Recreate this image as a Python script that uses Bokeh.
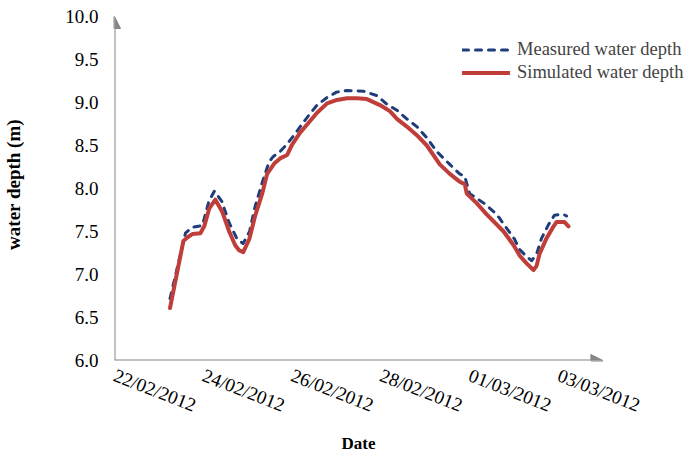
import pandas as pd
from bokeh.plotting import figure
from bokeh.models import (Range1d, FixedTicker, DatetimeTickFormatter, NumeralTickFormatter,
                          Arrow, NormalHead, Legend, LegendItem, Title)
from bokeh.embed import file_html
from bokeh.resources import INLINE

# ---------------- data ----------------
meas_time = ["2012-02-23 06:00", "2012-02-23 14:20", "2012-02-23 18:00", "2012-02-23 23:30",
             "2012-02-24 03:00", "2012-02-24 06:00", "2012-02-24 10:00", "2012-02-24 14:00",
             "2012-02-24 18:20", "2012-02-24 21:30", "2012-02-25 01:00", "2012-02-25 04:00",
             "2012-02-25 08:00", "2012-02-25 11:35", "2012-02-25 13:45", "2012-02-25 17:30",
             "2012-02-25 21:00", "2012-02-26 01:05", "2012-02-26 05:25", "2012-02-26 09:40",
             "2012-02-26 13:30", "2012-02-26 19:00", "2012-02-27 00:00", "2012-02-27 05:40",
             "2012-02-27 14:50", "2012-02-27 21:50", "2012-02-28 03:15", "2012-02-28 08:40",
             "2012-02-28 14:00", "2012-02-28 19:25", "2012-02-29 00:50", "2012-02-29 06:10",
             "2012-02-29 13:15", "2012-02-29 18:35", "2012-02-29 21:20", "2012-03-01 00:00",
             "2012-03-01 07:35", "2012-03-01 14:35", "2012-03-01 19:55", "2012-03-02 00:15",
             "2012-03-02 03:00", "2012-03-02 06:45", "2012-03-02 09:25", "2012-03-02 12:10",
             "2012-03-02 14:50", "2012-03-02 18:35", "2012-03-02 21:50", "2012-03-03 02:40",
             "2012-03-03 04:20"]
meas_depth = [6.72, 7.48, 7.55, 7.57,
              7.85, 7.97, 7.85, 7.60,
              7.41, 7.36, 7.50, 7.79,
              8.08, 8.31, 8.37, 8.43,
              8.51, 8.62, 8.75, 8.87,
              8.97, 9.06, 9.12, 9.14,
              9.13, 9.08, 8.98, 8.91,
              8.81, 8.72, 8.59, 8.43,
              8.28, 8.17, 8.14, 7.94,
              7.83, 7.70, 7.54, 7.41,
              7.29, 7.21, 7.16, 7.24,
              7.42, 7.58, 7.69, 7.70,
              7.68]

sim_time = ["2012-02-23 06:00", "2012-02-23 13:15", "2012-02-23 15:20", "2012-02-23 18:05",
            "2012-02-23 22:25", "2012-02-24 00:30", "2012-02-24 03:15", "2012-02-24 06:30",
            "2012-02-24 10:15", "2012-02-24 14:00", "2012-02-24 17:15", "2012-02-24 19:25",
            "2012-02-24 21:35", "2012-02-25 00:50", "2012-02-25 04:00", "2012-02-25 07:50",
            "2012-02-25 10:30", "2012-02-25 14:20", "2012-02-25 17:30", "2012-02-25 21:20",
            "2012-02-26 00:00", "2012-02-26 04:20", "2012-02-26 09:10", "2012-02-26 13:30",
            "2012-02-26 18:55", "2012-02-27 00:15", "2012-02-27 05:40", "2012-02-27 11:05",
            "2012-02-27 16:25", "2012-02-27 23:30", "2012-02-28 04:50", "2012-02-28 08:40",
            "2012-02-28 14:00", "2012-02-28 19:25", "2012-02-29 00:50", "2012-02-29 07:50",
            "2012-02-29 13:15", "2012-02-29 18:35", "2012-02-29 21:20", "2012-02-29 22:25",
            "2012-03-01 03:45", "2012-03-01 09:10", "2012-03-01 18:20", "2012-03-01 23:45",
            "2012-03-02 03:00", "2012-03-02 06:45", "2012-03-02 10:30", "2012-03-02 12:10",
            "2012-03-02 13:45", "2012-03-02 17:30", "2012-03-02 21:20", "2012-03-02 22:55",
            "2012-03-03 03:15", "2012-03-03 05:25"]
sim_depth = [6.61, 7.39, 7.43, 7.47,
             7.48, 7.56, 7.77, 7.87,
             7.73, 7.50, 7.34, 7.28,
             7.26, 7.41, 7.68, 7.94,
             8.17, 8.29, 8.35, 8.39,
             8.51, 8.65, 8.77, 8.88,
             8.99, 9.03, 9.05, 9.05,
             9.04, 8.97, 8.90, 8.81,
             8.72, 8.62, 8.50, 8.28,
             8.17, 8.08, 8.05, 7.94,
             7.83, 7.70, 7.50, 7.34,
             7.22, 7.13, 7.05, 7.10,
             7.24, 7.42, 7.56, 7.61,
             7.61, 7.56]

tick_dates = ["2012-02-22", "2012-02-24", "2012-02-26", "2012-02-28", "2012-03-01", "2012-03-03"]
y_ticks = [6.0, 6.5, 7.0, 7.5, 8.0, 8.5, 9.0, 9.5, 10.0]

x_start = "2012-02-22"
x_arrow_end = "2012-03-04"
y_min, y_max = 6.0, 10.0

# ---------------- styles ----------------
SERIF = "Liberation Serif"
AXIS_GREY = "#868686"
BLUE = "#1F3D7A"
RED = "#BF3E3A"


def ms(s):
    return pd.Timestamp(s).value / 1e6


x0 = ms(x_start)
day = 86400000.0
left_border, top_border = 109, 8
frame_w, frame_h = 572, 352
px_per_day = 44.4
px_per_unit = 86.0

p = figure(output_backend="svg", toolbar_location=None,
           x_axis_type="datetime",
           frame_width=frame_w, frame_height=frame_h,
           min_border_left=left_border, min_border_right=0,
           min_border_top=top_border, min_border_bottom=87,
           x_range=Range1d(x0, x0 + frame_w / px_per_day * day),
           y_range=Range1d(y_min, y_min + frame_h / px_per_unit))
p.outline_line_color = None
p.xgrid.visible = False
p.ygrid.visible = False
p.background_fill_color = "white"

r_meas = p.line(x=[pd.Timestamp(t) for t in meas_time], y=meas_depth,
                line_color=BLUE, line_width=3, line_dash="6 7", line_cap="round",
                line_join="round")
r_sim = p.line(x=[pd.Timestamp(t) for t in sim_time], y=sim_depth,
               line_color=RED, line_width=4, line_join="round", line_cap="round")

# axes
xa = p.xaxis[0]
xa.ticker = FixedTicker(ticks=[ms(d) for d in tick_dates])
fmt = "%d/%m/%Y"
xa.formatter = DatetimeTickFormatter(milliseconds=fmt, seconds=fmt, minsec=fmt, minutes=fmt,
                                     hourmin=fmt, hours=fmt, days=fmt, months=fmt, years=fmt)
xa.major_label_orientation = -0.37

ya = p.yaxis[0]
ya.ticker = FixedTicker(ticks=y_ticks)
ya.formatter = NumeralTickFormatter(format="0.0")
ya.axis_label = "water depth (m)"

for ax in (xa, ya):
    ax.axis_line_color = None
    ax.major_tick_line_color = None
    ax.minor_tick_line_color = None
    ax.major_tick_in = 0
    ax.major_tick_out = 0
    ax.major_label_text_font = SERIF
    ax.major_label_text_font_size = "19px"
    ax.major_label_text_color = "black"
    ax.axis_label_text_font = SERIF
    ax.axis_label_text_font_style = "bold"
    ax.axis_label_text_color = "black"

ya.major_label_standoff = 16
ya.axis_label_standoff = 38
ya.axis_label_text_font_size = "19px"
xa.major_label_standoff = 14

# x axis title, centred under the drawn axis (not under the wider frame)
p.add_layout(Title(text="Date", align="left", offset=227, standoff=6,
                   text_font=SERIF, text_font_size="17px", text_font_style="bold",
                   text_color="black"), "below")

# axis lines with arrow heads
p.add_layout(Arrow(end=NormalHead(size=12, fill_color=AXIS_GREY, line_color=AXIS_GREY),
                   x_start=x0, y_start=y_min, x_end=x0, y_end=y_max,
                   line_color=AXIS_GREY, line_width=2))
p.add_layout(Arrow(end=NormalHead(size=12, fill_color=AXIS_GREY, line_color=AXIS_GREY),
                   x_start=x0, y_start=y_min, x_end=ms(x_arrow_end), y_end=y_min,
                   line_color=AXIS_GREY, line_width=2))

legend = Legend(items=[LegendItem(label="Measured water depth", renderers=[r_meas]),
                       LegendItem(label="Simulated water depth", renderers=[r_sim])],
                location=(348, 276), padding=0, margin=0,
                border_line_color=None, background_fill_alpha=0,
                glyph_width=48, glyph_height=23, label_height=23, spacing=0,
                label_standoff=7, label_text_font=SERIF, label_text_font_size="18.5px")
p.add_layout(legend)

open("out.html", "w").write(file_html(p, INLINE))
